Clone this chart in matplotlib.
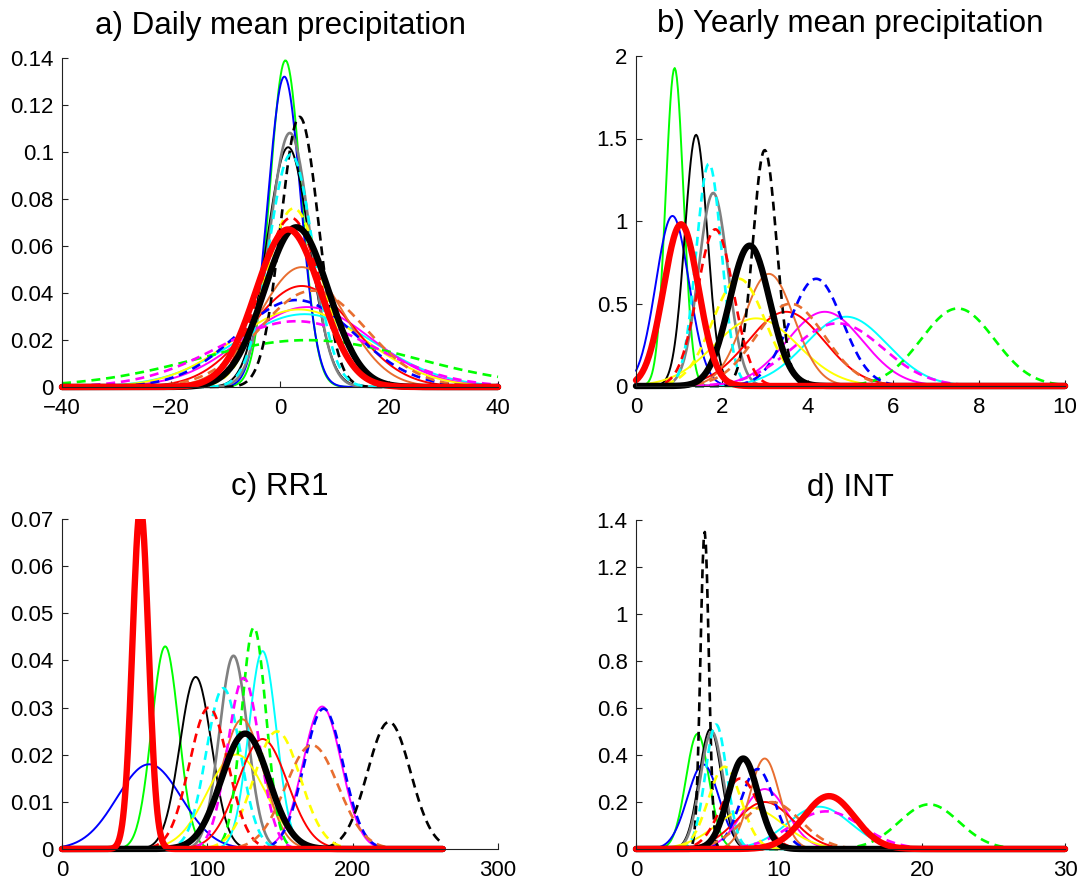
import numpy as np
import matplotlib
matplotlib.use("Agg")
import matplotlib.pyplot as plt
from matplotlib.ticker import FuncFormatter
from matplotlib.patches import Rectangle

plt.rcParams['font.family'] = ['Liberation Sans', 'DejaVu Sans']

# ---------------- data (Gaussian fits: means and standard deviations) ----------------
series = ['green', 'blue', 'black', 'gray', 'cyan', 'magenta', 'yellow', 'red', 'orange',
          'green_d', 'blue_d', 'black_d', 'cyan_d', 'magenta_d', 'yellow_d', 'red_d', 'orange_d',
          'thick_black', 'thick_red']

daily_mean = [1.0, 0.8, 1.5, 1.8, 4.5, 5.0, 3.5, 4.0, 4.0,
              5.0, 3.0, 3.6, 2.0, 3.0, 2.5, 2.0, 6.0,
              3.0, 1.5]
daily_sd = [2.87, 3.02, 3.91, 3.69, 12.87, 11.73, 12.09, 9.28, 7.82,
            20.0, 10.78, 3.47, 4.03, 14.25, 5.25, 5.54, 9.73,
            5.87, 5.95]

yearly_mean = [0.9, 0.85, 1.4, 1.8, 4.9, 4.4, 2.8, 3.5, 3.1,
               7.5, 4.2, 3.0, 1.7, 4.7, 2.4, 1.85, 3.6,
               2.65, 1.05]
yearly_sd = [0.207, 0.387, 0.262, 0.341, 0.95, 0.887, 0.973, 0.887, 0.587,
             0.849, 0.614, 0.279, 0.296, 1.05, 0.614, 0.42, 0.8,
             0.469, 0.407]

rr1_mean = [71, 60, 92, 118, 138, 179, 120, 138, 124,
            132, 180, 225, 111, 125, 148, 101, 172,
            126, 54]
rr1_sd = [9.28, 22.2, 10.93, 9.73, 9.5, 13.2, 19.9, 17.1, 14.5,
          8.49, 13.4, 14.8, 11.7, 11.0, 16.0, 13.3, 18.1,
          16.3, 5.5]

int_mean = [4.3, 4.7, 5.2, 5.3, 12.8, 9.0, 8.0, 9.0, 9.0,
            20.5, 8.5, 4.8, 5.6, 13.3, 6.2, 7.3, 9.5,
            7.5, 13.5]
int_sd = [0.814, 1.108, 0.782, 0.798, 2.216, 1.564, 2.28, 1.995, 1.036,
          2.1, 1.173, 0.2955, 0.753, 2.49, 1.14, 1.33, 2.0,
          1.036, 1.773]

titles = ['a) Daily mean precipitation', 'b) Yearly mean precipitation', 'c) RR1', 'd) INT']
x_ranges = [(-40, 40), (0, 10), (0, 262), (0, 30)]
x_lims = [(-40, 40), (0, 10), (0, 300), (0, 30)]
y_tops = [0.14, 2.0, 0.07, 1.4]
x_ticks = [[-40, -20, 0, 20, 40], [0, 2, 4, 6, 8, 10], [0, 100, 200, 300], [0, 10, 20, 30]]
y_ticks = [[0, 0.02, 0.04, 0.06, 0.08, 0.1, 0.12, 0.14],
           [0, 0.5, 1, 1.5, 2],
           [0, 0.01, 0.02, 0.03, 0.04, 0.05, 0.06, 0.07],
           [0, 0.2, 0.4, 0.6, 0.8, 1, 1.2, 1.4]]
panels = [(daily_mean, daily_sd), (yearly_mean, yearly_sd), (rr1_mean, rr1_sd), (int_mean, int_sd)]

# ---------------- styles ----------------
ORANGE = (0.91, 0.43, 0.19)
colors = ['#00ff00', '#0000ff', 'black', '#808080', '#00ffff', '#ff00ff', '#ffff00', '#ff0000', ORANGE,
          '#00ff00', '#0000ff', 'black', '#00ffff', '#ff00ff', '#ffff00', '#ff0000', ORANGE,
          'black', '#ff0000']
dashed = [False] * 9 + [True] * 8 + [False, False]
widths = [1.4] * 9 + [1.9] * 8 + [4.6, 4.6]
widths[3] = 1.9  # gray slightly thicker

W, H = 1090, 882
fig = plt.figure(figsize=(W / 100, H / 100), dpi=100)
boxes = [(62, 58, 498, 387), (636, 56, 1065, 386), (62, 519, 498, 849), (636, 520, 1065, 849)]


def fmt(v, _):
    s = '%g' % v
    return s.replace('-', '\u2212')


for k in range(4):
    x0, y0, x1, y1 = boxes[k]
    ax = fig.add_axes([x0 / W, 1 - y1 / H, (x1 - x0) / W, (y1 - y0) / H])
    means, sds = panels[k]
    xs = np.linspace(x_ranges[k][0], x_ranges[k][1], 400)
    clip = Rectangle((-0.01, -0.03), 1.02, 1.03, transform=ax.transAxes,
                     visible=False)
    ax.add_patch(clip)
    for i in range(len(series)):
        m, s = means[i], sds[i]
        ys = np.exp(-0.5 * ((xs - m) / s) ** 2) / (s * np.sqrt(2 * np.pi))
        if dashed[i]:
            ln, = ax.plot(xs, ys, color=colors[i], lw=widths[i], dashes=(3.4, 2.2))
        else:
            ln, = ax.plot(xs, ys, color=colors[i], lw=widths[i],
                          solid_capstyle='round', solid_joinstyle='round')
        ln.set_clip_path(clip)
    ax.set_xlim(*x_lims[k])
    ax.set_ylim(0, y_tops[k])
    ax.set_xticks(x_ticks[k])
    ax.set_yticks(y_ticks[k])
    ax.xaxis.set_major_formatter(FuncFormatter(fmt))
    ax.yaxis.set_major_formatter(FuncFormatter(fmt))
    for sp in ['top', 'right']:
        ax.spines[sp].set_visible(False)
    for sp in ['left', 'bottom']:
        ax.spines[sp].set_color('#222222')
        ax.spines[sp].set_linewidth(0.8)
    ax.tick_params(direction='in', length=4, width=0.8, labelsize=16, colors='#222222',
                   labelcolor='black')
    ax.tick_params(axis='x', pad=8)
    ax.tick_params(axis='y', pad=6)
    ax.set_title(titles[k], fontsize=22.5, pad=17)

fig.savefig('out.png', dpi=100)
